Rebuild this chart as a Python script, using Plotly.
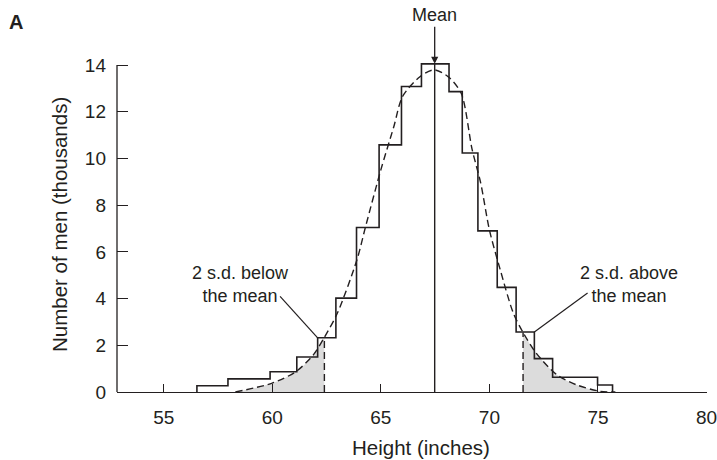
import plotly.graph_objects as go

# ---- data ----
# histogram bin edges (inches) and heights (thousands of men)
bin_edges = [56.53, 57.96, 59.90, 61.13, 62.09, 62.93, 63.88, 64.92, 65.95, 66.87,
             68.14, 68.75, 69.47, 70.36, 71.23, 72.07, 72.91, 74.98, 75.67]
bin_counts = [0.27, 0.56, 0.87, 1.50, 2.32, 4.02, 7.04, 10.58, 13.08, 14.05,
              12.86, 10.23, 6.90, 4.48, 2.57, 1.43, 0.63, 0.30]

# fitted (dashed) normal curve
curve_x = [58.3, 60.0, 61.1, 61.9, 62.4, 63.0, 63.9, 64.3, 65.0, 65.6, 66.0, 66.8,
           67.45, 68.1, 68.7, 69.2, 69.6, 70.0, 70.5, 71.1, 71.55, 72.15, 73.1,
           74.0, 75.1, 75.8]
curve_y = [0.0, 0.38, 0.88, 1.60, 2.34, 3.38, 5.66, 7.09, 9.51, 11.37, 12.65, 13.5,
           13.79, 13.5, 12.79, 10.4, 8.94, 6.94, 5.23, 3.38, 2.55, 1.67, 0.74,
           0.31, 0.03, 0.0]

mean_height = 67.48
sd2_below = 62.4
sd2_above = 71.55

x_ticks = [55, 60, 65, 70, 75, 80]
y_ticks = [0, 2, 4, 6, 8, 10, 12, 14]

# ---- styling ----
INK = "#231f20"
FONT = "Liberation Sans, Arial, Helvetica, sans-serif"
FS = 18        # annotation text
FS_TICK = 19   # tick labels
FS_TITLE = 20.5  # axis titles

# step outline of the histogram
step_x = [bin_edges[0]] + bin_edges
step_y = [0] + bin_counts + [0]

low_idx = curve_x.index(sd2_below)
high_idx = curve_x.index(sd2_above)

fig = go.Figure()

# shaded tails
fig.add_trace(go.Scatter(x=curve_x[:low_idx + 1], y=curve_y[:low_idx + 1],
                         mode="lines", line=dict(width=0, shape="spline"),
                         fill="tozeroy", fillcolor="#dcdcdc", hoverinfo="skip"))
fig.add_trace(go.Scatter(x=curve_x[high_idx:], y=curve_y[high_idx:],
                         mode="lines", line=dict(width=0, shape="spline"),
                         fill="tozeroy", fillcolor="#dcdcdc", hoverinfo="skip"))

# histogram outline
fig.add_trace(go.Scatter(x=step_x, y=step_y, mode="lines",
                         line=dict(color=INK, width=1.6, shape="hv")))

# dashed normal curve
fig.add_trace(go.Scatter(x=curve_x, y=curve_y, mode="lines",
                         line=dict(color=INK, width=1.4, dash="7px,4px", shape="spline",
                                   smoothing=0.8)))

# dashed 2 s.d. verticals
fig.add_trace(go.Scatter(x=[sd2_below, sd2_below], y=[0, curve_y[low_idx]], mode="lines",
                         line=dict(color=INK, width=1.4, dash="7px,4px")))
fig.add_trace(go.Scatter(x=[sd2_above, sd2_above], y=[0, curve_y[high_idx]], mode="lines",
                         line=dict(color=INK, width=1.4, dash="7px,4px")))

# mean line
fig.add_trace(go.Scatter(x=[mean_height, mean_height], y=[0, max(bin_counts)], mode="lines",
                         line=dict(color=INK, width=1.4)))

shapes = [
    # y axis line from 0 to 14
    dict(type="line", xref="paper", yref="y", x0=0, x1=0, y0=0, y1=y_ticks[-1],
         line=dict(color=INK, width=1.3)),
    # leader lines
    dict(type="line", xref="x", yref="y", x0=bin_edges[4], y0=bin_counts[4],
         x1=60.36, y1=4.09, line=dict(color=INK, width=1.2)),
    dict(type="line", xref="x", yref="y", x0=bin_edges[15], y0=bin_counts[14],
         x1=74.52, y1=4.24, line=dict(color=INK, width=1.2)),
]

annotations = [
    dict(x=mean_height, y=max(bin_counts), xref="x", yref="y", text="Mean",
         showarrow=True, ax=0, ay=-37, yanchor="bottom", arrowhead=2, arrowsize=1.1,
         arrowwidth=1.3, arrowcolor=INK, font=dict(size=FS, color=INK, family=FONT)),
    dict(x=58.52, y=4.59, xref="x", yref="y", text="2 s.d. below<br>the mean",
         showarrow=False, align="center", font=dict(size=FS, color=INK, family=FONT)),
    dict(x=76.44, y=4.59, xref="x", yref="y", text="2 s.d. above<br>the mean",
         showarrow=False, align="center", font=dict(size=FS, color=INK, family=FONT)),
    dict(x=0, y=0.5, xref="paper", yref="paper", xshift=-58, text="Number of men (thousands)",
         textangle=-90, showarrow=False, xanchor="center", yanchor="middle",
         font=dict(size=FS_TITLE, color=INK, family=FONT)),
    dict(x=0.5, y=0, xref="paper", yref="paper", xshift=9, yshift=-55, text="Height (inches)",
         showarrow=False, xanchor="center", yanchor="middle",
         font=dict(size=FS_TITLE, color=INK, family=FONT)),
    dict(x=0, y=1, xref="paper", yref="paper", xshift=-101, yshift=36, text="<b>A</b>",
         showarrow=False, xanchor="center", yanchor="middle",
         font=dict(size=20, color=INK, family=FONT)),
]

fig.update_layout(
    width=717, height=460,
    margin=dict(l=117, r=10, t=58, b=68, autoexpand=False),
    paper_bgcolor="white", plot_bgcolor="white",
    showlegend=False,
    font=dict(family=FONT, size=FS, color=INK),
    shapes=shapes, annotations=annotations,
    xaxis=dict(range=[52.85, 80.02], tickvals=x_ticks, ticks="inside", ticklen=8,
               tickwidth=1.3, tickcolor=INK, showline=True, linecolor=INK, linewidth=1.3,
               showgrid=False, zeroline=False, ticklabelstandoff=8,
               ticklabeloverflow="allow", automargin=False,
               tickfont=dict(size=FS_TICK, color=INK, family=FONT)),
    yaxis=dict(range=[0, 14.3], tickvals=y_ticks, ticks="inside", ticklen=11,
               tickwidth=1.3, tickcolor=INK, showline=False, automargin=False,
               showgrid=False, zeroline=False, ticklabelstandoff=10,
               tickfont=dict(size=FS_TICK, color=INK, family=FONT)),
)

fig.write_html("out.html", config={"displayModeBar": False},
               post_script="document.body.style.margin='0';document.body.style.padding='0';")
